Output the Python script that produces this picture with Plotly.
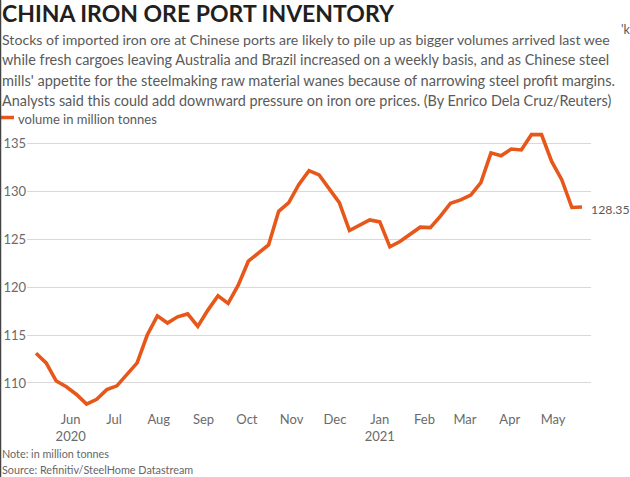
import pandas as pd
import plotly.graph_objects as go

# ---- data (weekly, million tonnes) ----
start_date = "2020-05-22"
volume = [113.1, 112.1, 110.2, 109.6, 108.8, 107.8, 108.3, 109.3, 109.7, 110.9,
          112.1, 115.0, 117.0, 116.25, 116.9, 117.2, 115.9, 117.6, 119.1, 118.3,
          120.2, 122.7, 123.5, 124.4, 127.9, 128.8, 130.7, 132.15, 131.7, 130.3,
          128.8, 125.9, 126.5, 127.0, 126.8, 124.2, 124.75, 125.55, 126.25, 126.2,
          127.4, 128.75, 129.1, 129.6, 130.9, 134.0, 133.7, 134.4, 134.3, 135.9,
          135.9, 133.1, 131.2, 128.3, 128.35]
dates = pd.date_range(start_date, periods=len(volume), freq="7D")

tick_dates = ["2020-06-15", "2020-07-15", "2020-08-15", "2020-09-15", "2020-10-15",
              "2020-11-15", "2020-12-15", "2021-01-15", "2021-02-15", "2021-03-15",
              "2021-04-15", "2021-05-15"]
tick_labels = ["Jun<br>2020", "Jul", "Aug", "Sep", "Oct", "Nov", "Dec",
               "Jan<br>2021", "Feb", "Mar", "Apr", "May"]
y_ticks = [110, 115, 120, 125, 130, 135]
end_label = "128.35"

title = "CHINA IRON ORE PORT INVENTORY"
subtitle_lines = [
    "Stocks of imported iron ore at Chinese ports are likely to pile up as bigger volumes arrived last wee",
    "while fresh cargoes leaving Australia and Brazil increased on a weekly basis, and as Chinese steel",
    "mills' appetite for the steelmaking raw material wanes because of narrowing steel profit margins.",
    "Analysts said this could add downward pressure on iron ore prices. (By Enrico Dela Cruz/Reuters)",
]
legend_text = "volume in million tonnes"
note_text = "Note: in million tonnes"
source_text = "Source: Refinitiv/SteelHome Datastream"

# ---- layout geometry ----
W, H = 630, 477
L, R, T, B = 27, 39, 124, 67
PW, PH = W - L - R, H - T - B
ORANGE = "#E8571A"
FONT = "Lato"
SUB_SIZES = [14.15, 14.45, 14.6, 14.4]


def px(x):
    return (x - L) / PW


def py(y):
    return (H - B - y) / PH


fig = go.Figure()
fig.add_trace(go.Scatter(x=dates, y=volume, mode="lines",
                         line=dict(color=ORANGE, width=3.6), hoverinfo="skip",
                         showlegend=False))

ann = []
ann.append(dict(x=px(0), y=py(13), text="<b>" + title + "</b>", xanchor="left", yanchor="middle",
                font=dict(family=FONT, size=23, color="#231f20")))
for i, line in enumerate(subtitle_lines):
    ann.append(dict(x=px(0), y=py(39.5 + i * 20.4), text=line, xanchor="left", yanchor="middle",
                    font=dict(family=FONT, size=SUB_SIZES[i], color="#5a5a5a")))
ann.append(dict(x=px(619), y=py(30), text="'k", xanchor="left", yanchor="middle",
                font=dict(family=FONT, size=12.5, color="#5a5a5a")))
ann.append(dict(x=px(16), y=py(118.5), text=legend_text, xanchor="left", yanchor="middle",
                font=dict(family=FONT, size=13, color="#5a5a5a")))
ann.append(dict(x=px(0), y=py(453), text=note_text, xanchor="left", yanchor="middle",
                font=dict(family=FONT, size=10.8, color="#666666")))
ann.append(dict(x=px(0), y=py(469), text=source_text, xanchor="left", yanchor="middle",
                font=dict(family=FONT, size=10.8, color="#666666")))
ann.append(dict(x=dates[-1], y=volume[-1], xref="x", yref="y", text=end_label,
                xanchor="left", yanchor="middle", xshift=7, yshift=-2,
                font=dict(family=FONT, size=12.3, color="#5a5a5a")))
for a in ann:
    a.setdefault("xref", "paper")
    a.setdefault("yref", "paper")
    a["showarrow"] = False

shapes = [
    dict(type="line", xref="paper", yref="paper", x0=px(1), x1=px(14), y0=py(117.5), y1=py(117.5),
         line=dict(color=ORANGE, width=3.5)),
    dict(type="line", xref="paper", yref="paper", x0=px(0.5), x1=px(0.5), y0=py(0), y1=py(H),
         line=dict(color="#444444", width=1.5)),
]

fig.update_layout(
    width=W, height=H,
    margin=dict(l=L, r=R, t=T, b=B, autoexpand=False),
    paper_bgcolor="white", plot_bgcolor="white",
    font=dict(family=FONT, color="#666666"),
    annotations=ann, shapes=shapes,
    xaxis=dict(type="date", range=["2020-05-15 18:00", "2021-06-10 06:00"],
               tickvals=tick_dates, ticktext=tick_labels, showgrid=False,
               zeroline=False, showline=False, ticks="", automargin=False,
               tickfont=dict(family=FONT, size=13, color="#6a6a6a")),
    yaxis=dict(range=[107.18, 137.01], tickvals=y_ticks, showgrid=True,
               gridcolor="#d9d9d9", gridwidth=1.2, zeroline=False, showline=False,
               ticks="", automargin=False,
               tickfont=dict(family=FONT, size=13, color="#6a6a6a")),
)

fig.write_html("out.html", config={"displayModeBar": False},
               post_script="document.body.style.margin='0';document.body.style.overflow='hidden';")
